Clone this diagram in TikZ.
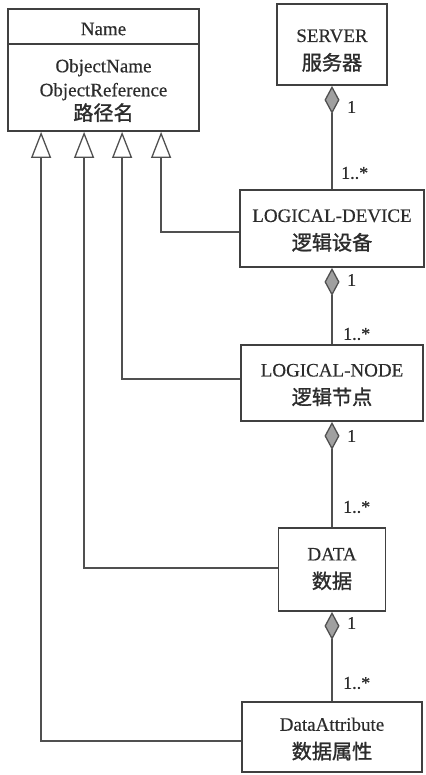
\documentclass[tikz,border=0pt]{standalone}
\usepackage{fontspec}
\setmainfont{Liberation Serif}[FakeBold=0.4]
\newfontfamily\cjk{Noto Sans CJK SC}[Scale=1.06, FakeBold=1.3]
\usetikzlibrary{arrows.meta}
\definecolor{ink}{HTML}{2C2C2C}
\definecolor{boxc}{HTML}{404040}
\definecolor{linec}{HTML}{505050}
\definecolor{dfill}{HTML}{A0A0A0}
\begin{document}
\begin{tikzpicture}[x=1pt,y=-1pt,
  box/.style={draw=boxc, line width=1.8pt, fill=white, inner sep=0pt},
  txt/.style={text=ink, inner sep=0pt, align=center, font=\fontsize{19}{28}\selectfont},
  gen/.style={draw=linec, line width=1.3pt, -{Triangle[open, length=26pt, width=20pt]}},
  comp/.style={draw=linec, line width=1.3pt, -{Diamond[length=28pt, width=15pt, fill=dfill]}},
  lbl/.style={text=ink, font=\fontsize{18}{20}\selectfont, inner sep=0pt, anchor=west}]
\useasboundingbox (0,0) rectangle (425,775);

% Name class
\node[box, minimum width=191pt, minimum height=122pt] (name) at (103.5,70) {};
\draw[draw=boxc, line width=1.4pt] (name.west |- 0,44) -- (name.east |- 0,44);
\node[txt, font=\fontsize{19}{24}\selectfont] (nm) at (103.5,29) {Name};
\node[txt, font=\fontsize{19}{24}\selectfont] (attrs) at (103.5,90.5) {ObjectName\\ObjectReference\\{\cjk 路径名}};

% hierarchy boxes
\node[box, minimum width=110pt, minimum height=81pt] (server) at (332,44.5) {};
\node[txt] (servertx) at ([yshift=-6pt]server.center) {SERVER\\{\cjk 服务器}};
\node[box, minimum width=184pt, minimum height=77pt] (ld) at (332,228.5) {};
\node[txt] (ldtx) at ([yshift=-2pt]ld.center) {LOGICAL-DEVICE\\{\cjk 逻辑设备}};
\node[box, minimum width=182pt, minimum height=76pt] (ln) at (332,383) {};
\node[txt] (lntx) at ([yshift=-2pt]ln.center) {LOGICAL-NODE\\{\cjk 逻辑节点}};
\node[box, minimum width=107pt, minimum height=83pt] (data) at (332,569.5) {};
\node[txt] (datatx) at ([yshift=0.5pt]data.center) {DATA\\{\cjk 数据}};
\node[box, minimum width=180pt, minimum height=70pt] (da) at (332,737) {};
\node[txt] (datx) at ([yshift=-2pt]da.center) {DataAttribute\\{\cjk 数据属性}};

% compositions
\draw[comp] (ld.north) -- (server.south);
\draw[comp] (ln.north) -- (ld.south);
\draw[comp] (data.north) -- (ln.south);
\draw[comp] (da.north) -- (data.south);

% multiplicities
\node[lbl] (s1) at (347,107) {1};
\node[lbl] (s2) at (341,173) {1..*};
\node[lbl] (l1) at (347,280) {1};
\node[lbl] (l2) at (343,334) {1..*};
\node[lbl] (n1) at (347,436) {1};
\node[lbl] (n2) at (343,507) {1..*};
\node[lbl] (d1) at (347,623) {1};
\node[lbl] (d2) at (343,683) {1..*};

% generalizations
\draw[gen] ([yshift=-3.5pt]ld.west) -| ([xshift=154pt]name.south west);
\draw[gen] ([yshift=4pt]ln.west) -| ([xshift=115pt]name.south west);
\draw[gen] ([yshift=1.5pt]data.west) -| ([xshift=77pt]name.south west);
\draw[gen] ([yshift=-4pt]da.west) -| ([xshift=34pt]name.south west);
\end{tikzpicture}
\end{document}
